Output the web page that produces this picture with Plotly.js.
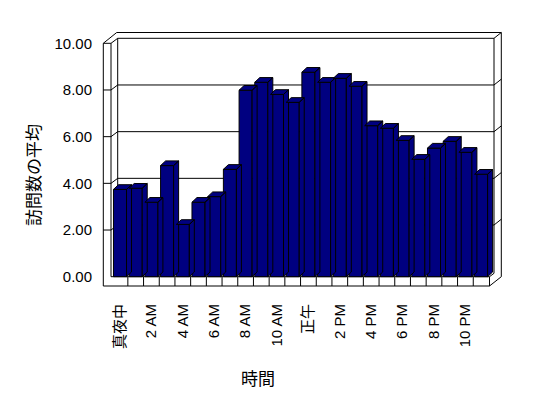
<!DOCTYPE html>
<html><head><meta charset="utf-8">
<script src="https://cdn.plot.ly/plotly-3.0.1.min.js"></script>
<style>html,body{margin:0;padding:0;background:#fff;}#chart{width:548px;height:398px;}</style>
</head><body><div id="chart"></div>
<script>
// ---- data ----
const categories = ['真夜中','1 AM','2 AM','3 AM','4 AM','5 AM','6 AM','7 AM','8 AM','9 AM','10 AM','11 AM',
                    '正午','1 PM','2 PM','3 PM','4 PM','5 PM','6 PM','7 PM','8 PM','9 PM','10 PM','11 PM'];
const visits = [3.74, 3.79, 3.19, 4.76, 2.24, 3.19, 3.43, 4.60, 7.99, 8.33, 7.81, 7.47,
                8.76, 8.33, 8.50, 8.16, 6.47, 6.36, 5.84, 5.03, 5.51, 5.80, 5.33, 4.39];
const tickIndex = [0,2,4,6,8,10,12,14,16,18,20,22];
const tickLabels = tickIndex.map(i => categories[i]);
const yTicks = [0,2,4,6,8,10];
const yTitle = '訪問数の平均';
const xTitle = '時間';

// ---- geometry helpers (pixel -> data units, used only for the 3D frame) ----
const PX_X = 15.7, PX_Y = 23.34, X0PX = 120, Y0PX = 276.7;
const px = p => (p - X0PX) / PX_X;
const py = p => (Y0PX - p) / PX_Y;

const idx = categories.map((c, i) => i);
const W = 0.83;                 // bar front width (fraction of slot)
const DX = 5 / PX_X, DY = 4.7 / PX_Y; // bar depth

const NAVY = '#000080';
const traces = [];
// side + top faces per bar (left to right)
idx.forEach(i => {
  const v = visits[i];
  const xl = i - W/2, xr = i + W/2;
  traces.push({
    type: 'scatter', mode: 'lines', fill: 'toself', fillcolor: NAVY,
    line: {color: '#000', width: 1}, hoverinfo: 'skip', showlegend: false,
    x: [xr, xr+DX, xr+DX, xr, xr, null, xl, xr, xr+DX, xl+DX, xl],
    y: [0, DY, v+DY, v, 0, null, v, v, v+DY, v+DY, v]
  });
});
// front faces
traces.push({
  type: 'bar', x: idx, y: visits, width: W,
  marker: {color: NAVY, line: {color: '#000', width: 1}},
  hoverinfo: 'skip', showlegend: false
});

// ---- 3D frame (walls & floor) ----
const fl = px(111), fo = px(103.3), bl = px(117.7), br = px(494), bo = px(501.3), fr = px(489.5);
const topIn = py(38.3), topOut = py(32.5), diagOutX = px(116.7), floorB = py(286);
const gOff = topIn - 10, g2 = topOut - topIn;
const shapes = [];
const L = (x0,y0,x1,y1) => shapes.push({type:'line', xref:'x', yref:'y', x0, y0, x1, y1,
  line:{color:'#000', width:1}, layer:'below'});
// floor front face (white)
shapes.push({type:'rect', xref:'x', yref:'y', x0: fo, x1: fr, y0: floorB, y1: 0,
  fillcolor:'#fff', line:{width:0}, layer:'below'});
L(fo,10, fo,floorB);
L(fl,10, fl,0);
L(fo,10, fl,10);
L(fo,10, diagOutX, topOut);
L(fl,10, bl, topIn);
L(bl, topIn, bl, gOff);
L(bl, topIn, br, topIn);
L(diagOutX, topOut, bo, topOut);
L(br, topIn, bo, topOut);
L(br, topIn, br, py(273.3));
L(bo, topOut, bo, 0);
[2,4,6,8].forEach(v => {
  L(fo, v, fl, v);
  L(fl, v, bl, v+gOff);
  L(bl, v+gOff, br, v+gOff);
  L(br, v+gOff, bo, v+gOff+g2);
});
L(fl, 0, fr, 0);
L(fo, floorB, fr, floorB);
L(fr, floorB, fr, 0);
for (let i = 0; i < categories.length - 1; i++) L(i+0.5, floorB, i+0.5, 0);
L(fr, 0, br, py(273.3));
L(fr, floorB, bo, 0);

const ML = 95, MR = 38, MT = 25, MB = 98;
const PW = 548 - ML - MR, PH = 398 - MT - MB;
const FONT = 'Liberation Sans, Arial, Noto Sans CJK JP, sans-serif';

const layout = {
  width: 548, height: 398,
  margin: {l: ML, r: MR, t: MT, b: MB, pad: 0},
  paper_bgcolor: '#fff', plot_bgcolor: '#fff',
  showlegend: false,
  font: {family: FONT, size: 15, color: '#000'},
  xaxis: {
    range: [px(ML), px(548 - MR)], showgrid: false, zeroline: false, showline: false,
    tickmode: 'array', tickvals: tickIndex, ticktext: tickLabels, tickangle: -90,
    ticks: '', tickfont: {family: FONT, size: 15, color: '#000'}, automargin: false, fixedrange: true
  },
  yaxis: {
    range: [py(398 - MB), py(MT)], showgrid: false, zeroline: false, showline: false,
    tickmode: 'array', tickvals: yTicks, tickformat: '.2f', ticks: '', ticklabelstandoff: 2,
    tickfont: {family: FONT, size: 15, color: '#000'}, automargin: false, fixedrange: true
  },
  shapes: shapes,
  annotations: [
    {text: yTitle, xref: 'paper', yref: 'paper', x: (32 - ML) / PW, y: (398 - MB - 175) / PH,
     textangle: -90, showarrow: false, xanchor: 'center', yanchor: 'middle',
     font: {family: 'Noto Sans CJK JP, sans-serif', size: 17, color: '#000'}},
    {text: xTitle, xref: 'paper', yref: 'paper', x: (258 - ML) / PW, y: (398 - MB - 377) / PH,
     showarrow: false, xanchor: 'center', yanchor: 'middle',
     font: {family: 'Noto Sans CJK JP, sans-serif', size: 17, color: '#000'}}
  ]
};

Plotly.newPlot('chart', traces, layout, {displayModeBar: false, staticPlot: true});
</script>
</body></html>
